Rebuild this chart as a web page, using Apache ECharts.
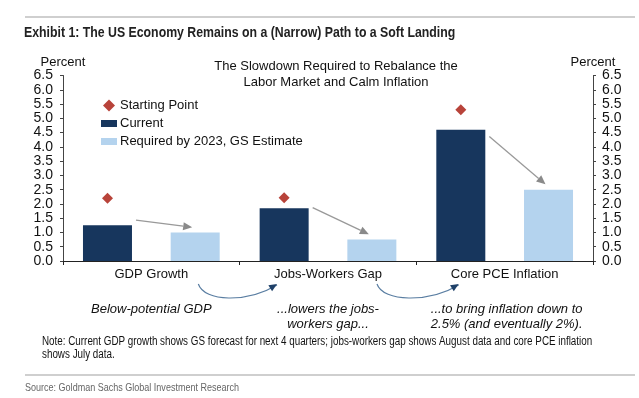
<!DOCTYPE html>
<html>
<head>
<meta charset="utf-8">
<script src="https://cdn.jsdelivr.net/npm/echarts@6/dist/echarts.min.js"></script>
<style>
    html, body { margin: 0; padding: 0; background: #fff; }
    #slowdown { width: 639px; height: 398px; }
</style>
</head>
<body>
<div id="slowdown"></div>
<script>
const categories = ['GDP Growth', 'Jobs-Workers Gap', 'Core PCE Inflation']
const startingPoint = [2.2, 2.22, 5.3]
const current = [1.25, 1.85, 4.6]
const required = [1.0, 0.75, 2.5]
// grey arrows: value where each arrow leaves the current bar / lands over the required bar
const arrowFrom = [1.43, 1.87, 4.36]
const arrowTo = [1.18, 0.94, 2.69]
const yTicks = [0, 6.5, 0.5]   // min, max, interval

const NAVY = '#17365d'
const LIGHT = '#b4d3ee'
const RED = '#b8433a'
const BAR_W = 49
const BAR_GAP = 38.7
const OFFSET = (BAR_W + BAR_GAP) / 2
const FONT = '"Liberation Sans", Arial, sans-serif'
const SQUEEZE = 0.82   // no condensed face installed, so squeeze the regular one

function arrowHead(tip, from, len, half) {
    const dx = tip[0] - from[0], dy = tip[1] - from[1]
    const d = Math.sqrt(dx * dx + dy * dy) || 1
    const ux = dx / d, uy = dy / d
    const bx = tip[0] - ux * len, by = tip[1] - uy * len
    return [tip, [bx - uy * half, by + ux * half], [bx + uy * half, by - ux * half]]
}

const containerDom = document.getElementById('slowdown')
const myChart = echarts.init(containerDom)

const yAxisBase = {
    type: 'value',
    min: yTicks[0],
    max: yTicks[1],
    interval: yTicks[2],
    name: 'Percent',
    nameLocation: 'end',
    nameGap: 7,
    nameTextStyle: { color: '#111', fontSize: 13, fontFamily: FONT },
    splitLine: { show: false },
    axisLine: { show: true, lineStyle: { color: '#444', width: 1 } },
    axisTick: { show: true, length: 3, lineStyle: { color: '#444' } },
    axisLabel: { color: '#111', fontSize: 14, fontFamily: FONT, formatter: v => v.toFixed(1) }
}

const option = {
    animation: false,
    title: {
        text: 'The Slowdown Required to Rebalance the\nLabor Market and Calm Inflation',
        left: 331, top: 53, textAlign: 'center',
        textStyle: { fontSize: 13, fontWeight: 'normal', color: '#111', fontFamily: FONT, lineHeight: 16 }
    },
    legend: {
        orient: 'vertical',
        left: 96, top: 94,
        itemWidth: 16, itemHeight: 12, itemGap: 5,
        textStyle: { color: '#111', fontSize: 13, fontFamily: FONT, padding: [0, 0, 0, -2] },
        data: [
            { name: 'Starting Point', icon: 'path://M5 0L10 5L5 10L0 5Z' },
            { name: 'Current', icon: 'path://M0 0H16V7H0Z' },
            { name: 'Required by 2023, GS Estimate', icon: 'path://M0 0H16V7H0Z' }
        ]
    },
    grid: { left: 63, right: 46, top: 75.5, bottom: 137, containLabel: false },
    xAxis: {
        type: 'category',
        data: categories,
        axisLine: { lineStyle: { color: '#222', width: 1 } },
        axisTick: { show: true, length: 4, lineStyle: { color: '#222' } },
        axisLabel: { color: '#111', fontSize: 13, fontFamily: FONT, margin: 7 }
    },
    yAxis: [
        Object.assign({}, yAxisBase, { position: 'left', axisLabel: Object.assign({}, yAxisBase.axisLabel, { margin: 10 }) }),
        Object.assign({}, yAxisBase, { position: 'right', axisLabel: Object.assign({}, yAxisBase.axisLabel, { margin: 9 }) })
    ],
    series: [
        {
            name: 'Current',
            type: 'bar',
            barWidth: BAR_W,
            barGap: (BAR_GAP / BAR_W * 100).toFixed(0) + '%',
            itemStyle: { color: NAVY },
            data: current
        },
        {
            name: 'Required by 2023, GS Estimate',
            type: 'bar',
            barWidth: BAR_W,
            itemStyle: { color: LIGHT },
            data: required
        },
        {
            name: 'Starting Point',
            type: 'scatter',
            symbol: 'diamond',
            symbolSize: 11,
            symbolOffset: [-OFFSET, 0],
            itemStyle: { color: RED, opacity: 1 },
            data: categories.map((c, i) => [c, startingPoint[i]]),
            z: 5
        },
        {
            name: 'arrows',
            type: 'custom',
            silent: true,
            z: 4,
            data: categories.map((c, i) => [i, arrowFrom[i], arrowTo[i]]),
            renderItem: function (params, api) {
                const a = api.coord([api.value(0), api.value(1)])
                const b = api.coord([api.value(0), api.value(2)])
                const p0 = [a[0] - OFFSET + BAR_W / 2 + 4, a[1]]
                const tip = [b[0] + OFFSET - 3, b[1]]
                const head = arrowHead(tip, p0, 9, 4)
                const base = [(head[1][0] + head[2][0]) / 2, (head[1][1] + head[2][1]) / 2]
                return {
                    type: 'group',
                    children: [
                        { type: 'line', shape: { x1: p0[0], y1: p0[1], x2: base[0], y2: base[1] },
                          style: { stroke: '#999', lineWidth: 1.3 } },
                        { type: 'polygon', shape: { points: head }, style: { fill: '#8a8a8a' } }
                    ]
                }
            }
        }
    ]
}
myChart.setOption(option)

// annotations below the axis, tied to the category centres
const cx = categories.map(c => myChart.convertToPixel({ xAxisIndex: 0 }, c))
const CURVE = '#5a7ea2'
function curveArrow(x1, x2) {
    const y1 = 284, y2 = 285
    const cp2 = [x2 - 30, 303]
    const head = arrowHead([x2, y2 - 1], cp2, 8, 3.5)
    return [
        { type: 'bezierCurve', shape: { x1: x1, y1: y1, cpx1: x1 + 6, cpy1: 302, cpx2: cp2[0], cpy2: cp2[1], x2: x2, y2: y2 },
          style: { stroke: CURVE, lineWidth: 1.2, fill: null } },
        { type: 'polygon', shape: { points: head }, style: { fill: '#1f4068' } }
    ]
}
function narrowText(text, x, y, font, fill, lineHeight) {
    return { type: 'text', x: x, y: y, scaleX: SQUEEZE,
             style: { text: text, x: 0, y: 0, fill: fill, font: font, verticalAlign: 'middle', lineHeight: lineHeight } }
}
const italic = { fill: '#111', font: 'italic 13px ' + FONT, align: 'center', verticalAlign: 'middle', lineHeight: 15 }
const graphic = [
    { type: 'line', shape: { x1: 25, y1: 17, x2: 635, y2: 17 }, style: { stroke: '#cfcfcf', lineWidth: 2 } },
    { type: 'line', shape: { x1: 25, y1: 375, x2: 635, y2: 375 }, style: { stroke: '#cfcfcf', lineWidth: 2 } },
    narrowText('Exhibit 1: The US Economy Remains on a (Narrow) Path to a Soft Landing', 24, 33,
               'bold 15px ' + FONT, '#222', 18),
    { type: 'text', style: Object.assign({ text: 'Below-potential GDP', x: cx[0], y: 309.5 }, italic) },
    { type: 'text', style: Object.assign({ text: '...lowers the jobs-\nworkers gap...', x: cx[1], y: 317 }, italic) },
    { type: 'text', style: Object.assign({ text: '...to bring inflation down to\n2.5% (and eventually 2%).', x: cx[2] + 2, y: 317 }, italic) },
    narrowText('Note: Current GDP growth shows GS forecast for next 4 quarters; jobs-workers gap shows August data and core PCE inflation\nshows July data.',
               42, 348, '12px ' + FONT, '#111', 12.5),
    narrowText('Source: Goldman Sachs Global Investment Research', 25, 388, '11px ' + FONT, '#666', 13)
]
    .concat(curveArrow(cx[0] + 47, cx[1] - 51))
    .concat(curveArrow(cx[1] + 49, cx[2] - 46))
myChart.setOption({ graphic: graphic })

window.addEventListener('resize', () => {
    myChart.resize()
})
</script>
</body>
</html>
